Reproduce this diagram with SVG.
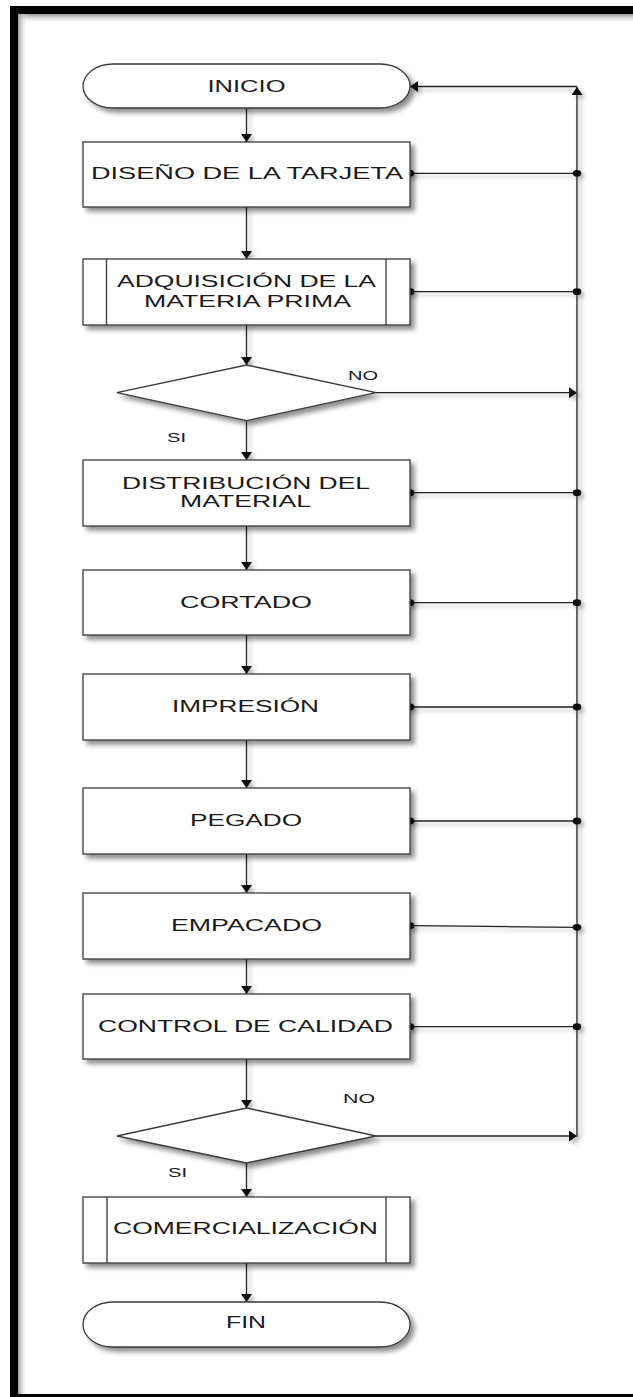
<svg xmlns="http://www.w3.org/2000/svg" width="633" height="1397" viewBox="0 0 633 1397">
<defs>
<style>
.box{fill:#fff;stroke:#3a3a3a;stroke-width:1.3}
.t{font-family:"Liberation Sans",Arial,sans-serif;font-size:16px;fill:#1a1a1a;text-anchor:middle}
.lbl{font-family:"Liberation Sans",Arial,sans-serif;font-size:12px;fill:#1a1a1a;text-anchor:middle}
.ln{fill:none;stroke:#222;stroke-width:1.3}
.arr{fill:none;stroke:#222;stroke-width:1.3;marker-end:url(#ah)}
.dot{fill:#111}
</style>
<marker id="ah" viewBox="0 0 8 11" refX="8" refY="5.5" markerWidth="8" markerHeight="11" markerUnits="userSpaceOnUse" orient="auto">
<path d="M0,0 L8,5.5 L0,11 z" fill="#111"/>
</marker>
<filter id="sh" x="-10%" y="-10%" width="130%" height="140%">
<feDropShadow dx="4" dy="4" stdDeviation="2.5" flood-color="#000" flood-opacity="0.45"/>
</filter>
<filter id="shl" x="-10%" y="-10%" width="130%" height="130%">
<feDropShadow dx="3" dy="3" stdDeviation="2" flood-color="#000" flood-opacity="0.3"/>
</filter>
<linearGradient id="gtop" x1="0" y1="0" x2="0" y2="1">
<stop offset="0" stop-color="#9a9a9a"/>
<stop offset="1" stop-color="#fff" stop-opacity="0"/>
</linearGradient>
<linearGradient id="gleft" x1="0" y1="0" x2="1" y2="0">
<stop offset="0" stop-color="#9a9a9a"/>
<stop offset="1" stop-color="#fff" stop-opacity="0"/>
</linearGradient>
</defs>
<rect x="0" y="0" width="633" height="1397" fill="#fff"/>
<g id="frame">
<rect x="14" y="14" width="640" height="10" fill="url(#gtop)"/>
<rect x="18" y="14" width="10" height="1380" fill="url(#gleft)"/>
<rect x="14" y="10" width="700" height="1388" fill="none" stroke="#000" stroke-width="8"/>
</g>
<g id="connectors" filter="url(#shl)">
<path class="arr" d="M246.5,108 V142"/>
<path class="arr" d="M246.5,207 V259"/>
<path class="arr" d="M246.5,325 V365"/>
<path class="arr" d="M246.5,420.7 V460"/>
<path class="arr" d="M246.5,526 V570"/>
<path class="arr" d="M246.5,635 V674"/>
<path class="arr" d="M246.5,740 V788"/>
<path class="arr" d="M246.5,854 V893"/>
<path class="arr" d="M246.5,959 V994"/>
<path class="arr" d="M246.5,1059 V1108"/>
<path class="arr" d="M246.5,1163 V1197"/>
<path class="arr" d="M246.5,1263 V1302"/>
<path class="ln" d="M410,173.3 H577"/>
<path class="ln" d="M410,291.7 H577"/>
<path class="ln" d="M410,492.7 H577"/>
<path class="ln" d="M410,602.7 H577"/>
<path class="ln" d="M410,707 H577"/>
<path class="ln" d="M410,821 H577"/>
<path class="ln" d="M410,925.7 L577,927.3"/>
<path class="ln" d="M410,1026.7 H577"/>
<path class="arr" d="M376,392.7 H577"/>
<path class="arr" d="M376,1136 H577"/>
<path class="arr" style="stroke:#555;stroke-width:1.8" d="M577,1137 V87"/>
<path class="arr" d="M577,86.5 H410"/>
<ellipse class="dot" cx="410" cy="173.3" rx="4.3" ry="3.4"/>
<ellipse class="dot" cx="577" cy="173.3" rx="4.3" ry="3.4"/>
<ellipse class="dot" cx="410" cy="291.7" rx="4.3" ry="3.4"/>
<ellipse class="dot" cx="577" cy="291.7" rx="4.3" ry="3.4"/>
<ellipse class="dot" cx="410" cy="492.7" rx="4.3" ry="3.4"/>
<ellipse class="dot" cx="577" cy="492.7" rx="4.3" ry="3.4"/>
<ellipse class="dot" cx="410" cy="602.7" rx="4.3" ry="3.4"/>
<ellipse class="dot" cx="577" cy="602.7" rx="4.3" ry="3.4"/>
<ellipse class="dot" cx="410" cy="707" rx="4.3" ry="3.4"/>
<ellipse class="dot" cx="577" cy="707" rx="4.3" ry="3.4"/>
<ellipse class="dot" cx="410" cy="821" rx="4.3" ry="3.4"/>
<ellipse class="dot" cx="577" cy="821" rx="4.3" ry="3.4"/>
<ellipse class="dot" cx="410" cy="925.7" rx="4.3" ry="3.4"/>
<ellipse class="dot" cx="577" cy="927.3" rx="4.3" ry="3.4"/>
<ellipse class="dot" cx="410" cy="1026.7" rx="4.3" ry="3.4"/>
<ellipse class="dot" cx="577" cy="1026.7" rx="4.3" ry="3.4"/>
</g>
<g id="inicio"><rect class="box" filter="url(#sh)" x="83" y="64" width="327" height="44" rx="30" ry="22"/><text class="t" x="246.5" y="91.7" textLength="78" lengthAdjust="spacingAndGlyphs">INICIO</text></g>
<g id="diseno"><rect class="box" filter="url(#sh)" x="83" y="142" width="327" height="65"/><text class="t" x="247" y="179.3" textLength="312" lengthAdjust="spacingAndGlyphs">DISEÑO DE LA TARJETA</text></g>
<g id="adquisicion"><rect class="box" filter="url(#sh)" x="83" y="259" width="327" height="66"/><path class="box" d="M106.5,259 V325 M386,259 V325"/><text class="t" x="246.5" y="287.3" textLength="259" lengthAdjust="spacingAndGlyphs">ADQUISICIÓN DE LA</text><text class="t" x="247.5" y="306.7" textLength="207" lengthAdjust="spacingAndGlyphs">MATERIA PRIMA</text></g>
<g id="decision1"><polygon class="box" filter="url(#sh)" points="246.5,365 376,392.7 246.5,420.7 117,392.7"/><text class="lbl" x="363" y="380" textLength="30" lengthAdjust="spacingAndGlyphs">NO</text><text class="lbl" x="176.5" y="441.7" textLength="19" lengthAdjust="spacingAndGlyphs">SI</text></g>
<g id="distribucion"><rect class="box" filter="url(#sh)" x="83" y="460" width="327" height="66"/><text class="t" x="246" y="489" textLength="248" lengthAdjust="spacingAndGlyphs">DISTRIBUCIÓN DEL</text><text class="t" x="245.5" y="507.3" textLength="131" lengthAdjust="spacingAndGlyphs">MATERIAL</text></g>
<g id="cortado"><rect class="box" filter="url(#sh)" x="83" y="570" width="327" height="65"/><text class="t" x="246" y="607.7" textLength="132" lengthAdjust="spacingAndGlyphs">CORTADO</text></g>
<g id="impresion"><rect class="box" filter="url(#sh)" x="83" y="674" width="327" height="66"/><text class="t" x="245.5" y="712" textLength="147" lengthAdjust="spacingAndGlyphs">IMPRESIÓN</text></g>
<g id="pegado"><rect class="box" filter="url(#sh)" x="83" y="788" width="327" height="66"/><text class="t" x="246" y="826" textLength="112" lengthAdjust="spacingAndGlyphs">PEGADO</text></g>
<g id="empacado"><rect class="box" filter="url(#sh)" x="83" y="893" width="327" height="66"/><text class="t" x="246.5" y="931" textLength="151" lengthAdjust="spacingAndGlyphs">EMPACADO</text></g>
<g id="control"><rect class="box" filter="url(#sh)" x="83" y="994" width="327" height="65"/><text class="t" x="245.5" y="1031.5" textLength="295" lengthAdjust="spacingAndGlyphs">CONTROL DE CALIDAD</text></g>
<g id="decision2"><polygon class="box" filter="url(#sh)" points="246.5,1108 376,1136 246.5,1163 117,1136"/><text class="lbl" x="359" y="1102.5" textLength="32" lengthAdjust="spacingAndGlyphs">NO</text><text class="lbl" x="177.5" y="1176.5" textLength="19" lengthAdjust="spacingAndGlyphs">SI</text></g>
<g id="comercializacion"><rect class="box" filter="url(#sh)" x="83" y="1197" width="327" height="66"/><path class="box" d="M107,1197 V1263 M386,1197 V1263"/><text class="t" x="245.5" y="1234" textLength="265" lengthAdjust="spacingAndGlyphs">COMERCIALIZACIÓN</text></g>
<g id="fin"><rect class="box" filter="url(#sh)" x="83" y="1302" width="327" height="45" rx="30" ry="22.5"/><text class="t" x="246" y="1328.3" textLength="40" lengthAdjust="spacingAndGlyphs">FIN</text></g>
</svg>
